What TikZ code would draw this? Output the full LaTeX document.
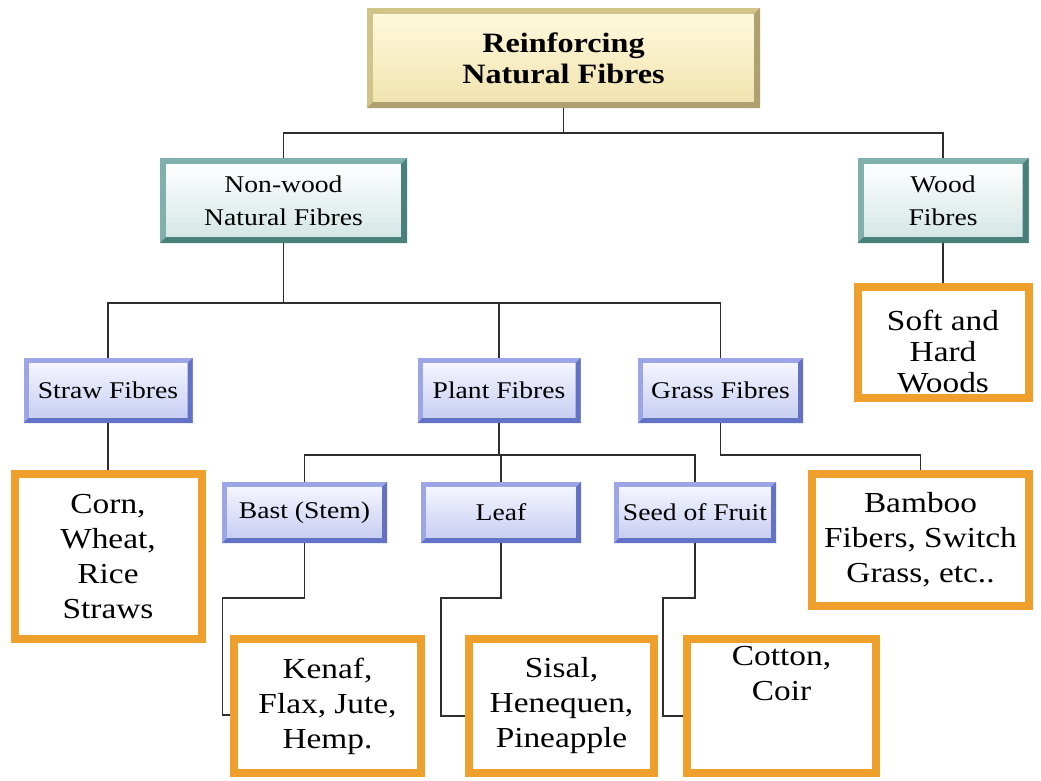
\documentclass[tikz,border=0pt]{standalone}
\usepackage{fontspec}
\setmainfont{Liberation Serif}[FakeStretch=1.15]
\usepackage{tikz}
\usetikzlibrary{positioning}

\definecolor{goldframe}{HTML}{D2C488}
\definecolor{golddark}{HTML}{B0A070}
\definecolor{goldtop}{HTML}{FFF9DE}
\definecolor{goldbot}{HTML}{F1E3AE}
\definecolor{tealframe}{HTML}{7FB0AC}
\definecolor{tealdark}{HTML}{4A807C}
\definecolor{tealbot}{HTML}{D3E6E4}
\definecolor{blueframe}{HTML}{9CA6E6}
\definecolor{bluedark}{HTML}{6472C6}
\definecolor{bluetop}{HTML}{F6F7FF}
\definecolor{bluebot}{HTML}{C6CCF2}
\definecolor{orangeframe}{HTML}{EFA02C}
\definecolor{linegrey}{HTML}{2E2E2E}

\tikzset{
	conn/.style={draw=linegrey, line width=1.8pt},
	rootbox/.style={draw=goldframe, line width=6pt, top color=goldtop, bottom color=goldbot,
		align=center, inner sep=2pt, font=\fontsize{28}{31}\selectfont\bfseries},
	groupbox/.style={draw=tealframe, line width=6pt, top color=white, bottom color=tealbot,
		align=center, inner sep=2pt, font=\fontsize{24}{33}\selectfont},
	typebox/.style={draw=blueframe, line width=5pt, top color=bluetop, bottom color=bluebot,
		align=center, inner sep=2pt, font=\fontsize{24}{28}\selectfont},
	examplebox/.style={draw=orangeframe, line width=8pt, fill=white,
		align=center, inner sep=2pt, font=\fontsize{29}{35}\selectfont}
}

% darker lower and right edge of a framed box
\newcommand{\bevel}[3]{%
	\fill[#3] (#1.north east) -- (#1.south east) -- (#1.south west)
		-- ([xshift=#2,yshift=#2]#1.south west) -- ([xshift=-#2,yshift=#2]#1.south east)
		-- ([xshift=-#2,yshift=-#2]#1.north east) -- cycle;}

\begin{document}
\begin{tikzpicture}[x=1pt, y=-1pt]

	\fill[white] (0,0) rectangle (1041,780);
	\useasboundingbox (0,0) rectangle (1041,780);

	% top level
	\node[rootbox, minimum width=387pt, minimum height=94pt] (rnf) at (563.5,58) {Reinforcing\\Natural Fibres};

	% second level
	\node[groupbox, minimum width=241pt, minimum height=79pt] (nonwood) at (283.5,200.5) {Non-wood\\Natural Fibres};
	\node[groupbox, minimum width=165pt, minimum height=79pt] (wood) at (943,200.5) {Wood\\Fibres};
	\node[examplebox, minimum width=171pt, minimum height=111pt, font=\fontsize{29}{31}\selectfont] (soft) at (943,342.5) {\rule{0pt}{38pt}Soft and\\Hard\\Woods};

	% third level
	\node[typebox, minimum width=164pt, minimum height=60pt] (straw) at (108,390.5) {Straw Fibres};
	\node[typebox, minimum width=158pt, minimum height=60pt] (plant) at (499,390.5) {Plant Fibres};
	\node[typebox, minimum width=160pt, minimum height=60pt] (grass) at (720.5,390.5) {Grass Fibres};

	\node[examplebox, minimum width=187pt, minimum height=165pt] (corn) at (108,556.5) {Corn,\\Wheat,\\Rice\\Straws};
	\node[examplebox, minimum width=217pt, minimum height=132pt] (bamboo) at (920.5,540) {Bamboo\\Fibers, Switch\\Grass, etc..};

	% plant fibre kinds
	\node[typebox, minimum width=160pt, minimum height=56pt] (bast) at (304.5,512.5) {Bast (Stem)};
	\node[typebox, minimum width=155pt, minimum height=56pt] (leaf) at (501,512.5) {Leaf};
	\node[typebox, minimum width=157pt, minimum height=56pt] (seed) at (695,512.5) {Seed of Fruit};

	\node[examplebox, minimum width=187pt, minimum height=134pt] (kenaf) at (327.5,706) {Kenaf,\\Flax, Jute,\\Hemp.};
	\node[examplebox, minimum width=185pt, minimum height=134pt] (sisal) at (561.5,706) {Sisal,\\Henequen,\\Pineapple};
	\node[examplebox, minimum width=189pt, minimum height=134pt] (cotton) at (781.5,706) {Cotton,\\Coir\\[30pt]\mbox{}};

	\bevel{rnf}{6pt}{golddark}
	\bevel{nonwood}{6pt}{tealdark}
	\bevel{wood}{6pt}{tealdark}
	\foreach \b in {straw,plant,grass,bast,leaf,seed}
		\bevel{\b}{5pt}{bluedark};

	% connectors
	\draw[conn] (rnf.south) -- ++(0,25);
	\draw[conn] (nonwood.north) |- ([yshift=25pt]wood.north) -- (wood.north);
	\draw[conn] (wood.south) -- (wood.south |- soft.north);

	\draw[conn] (nonwood.south) -- ++(0,60);
	\draw[conn] (straw.north) |- ([yshift=55pt]grass.north) -- (grass.north);
	\draw[conn] ([yshift=55pt]plant.north) -- (plant.north);
	\draw[conn] (straw.south) -- (straw.south |- corn.north);

	\draw[conn] (plant.south) -- ++(0,32);
	\draw[conn] (bast.north) |- ([yshift=27pt]seed.north) -- (seed.north);
	\draw[conn] ([yshift=27pt]leaf.north) -- (leaf.north);
	\draw[conn] (grass.south) |- ([yshift=15pt]bamboo.north) -- (bamboo.north);

	\draw[conn] (bast.south) -- ++(0,55) -- ++(-82,0) |- ([yshift=-9pt]kenaf.west);
	\draw[conn] (leaf.south) -- ++(0,55) -- ++(-60,0) |- ([yshift=-10pt]sisal.west);
	\draw[conn] (seed.south) -- ++(0,55) -- ++(-32,0) |- ([yshift=-10pt]cotton.west);

\end{tikzpicture}
\end{document}
